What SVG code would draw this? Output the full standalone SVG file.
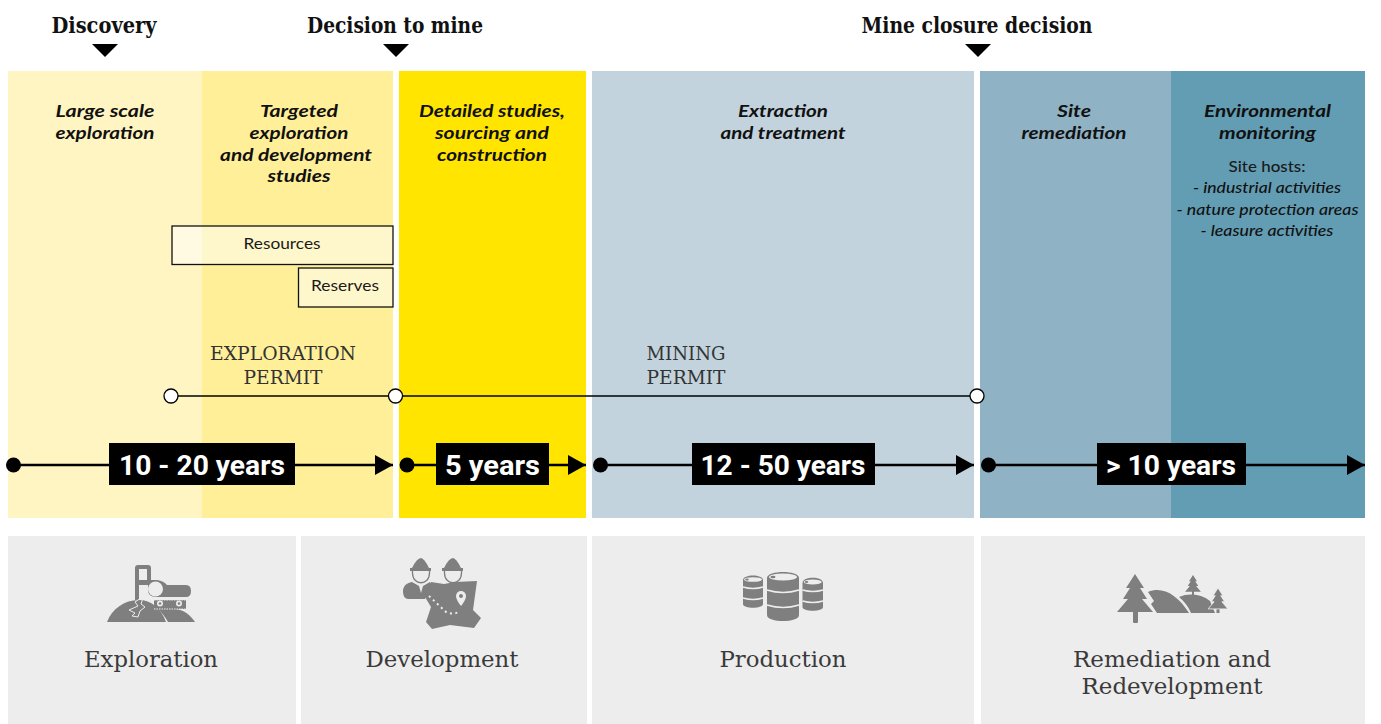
<svg xmlns="http://www.w3.org/2000/svg" width="1381" height="724" viewBox="0 0 1381 724">
<style>
.hd{font:700 22px "DejaVu Serif",serif;fill:#111;text-anchor:middle}
.st{font:italic 700 17.500px Lato,"Open Sans",sans-serif;fill:#111;text-anchor:middle}
.sm{font:italic 500 15px Lato,"Open Sans",sans-serif;fill:#111;text-anchor:middle}
.bx{font:400 15.500px Lato,"Open Sans",sans-serif;fill:#1a1a1a;text-anchor:middle}
.pm{font:200 19px "DejaVu Serif",serif;fill:#333;text-anchor:middle}
.yr{font:700 28px Roboto,sans-serif;fill:#fff;text-anchor:middle}
.cat{font:200 22.500px "DejaVu Serif",serif;fill:#3a3a3a;text-anchor:middle}
.ic{fill:#7f7f7f}
.gap{fill:none;stroke:#ededed}
</style>
<defs>
<marker id="ah" markerUnits="userSpaceOnUse" markerWidth="18" markerHeight="20" refX="18" refY="10" orient="auto"><path d="M0 0L18 10L0 20Z" fill="#000"/></marker>
<path id="tree" d="M0 0L9 14H5L12 25H7L18 38H-18L-7 25H-12L-5 14H-9Z"/>
</defs>
<rect width="1381" height="724" fill="#fff"/>
<g id="phase-large-scale"><rect x="8" y="71" width="194" height="447" fill="#fff5c2"/><text class="st" x="105" y="117" textLength="99" lengthAdjust="spacingAndGlyphs">Large scale</text><text class="st" x="105" y="139" textLength="99" lengthAdjust="spacingAndGlyphs">exploration</text></g>
<g id="phase-targeted"><rect x="202" y="71" width="191" height="447" fill="#ffef99"/><text class="st" x="299" y="117" textLength="78" lengthAdjust="spacingAndGlyphs">Targeted</text><text class="st" x="299" y="139" textLength="99" lengthAdjust="spacingAndGlyphs">exploration</text><text class="st" x="296" y="161" textLength="152" lengthAdjust="spacingAndGlyphs">and development</text><text class="st" x="299" y="182" textLength="63" lengthAdjust="spacingAndGlyphs">studies</text></g>
<g id="phase-detailed"><rect x="399" y="71" width="187" height="447" fill="#ffe500"/><text class="st" x="492" y="117" textLength="146" lengthAdjust="spacingAndGlyphs">Detailed studies,</text><text class="st" x="492" y="139" textLength="114" lengthAdjust="spacingAndGlyphs">sourcing and</text><text class="st" x="492" y="161" textLength="110" lengthAdjust="spacingAndGlyphs">construction</text></g>
<g id="phase-extraction"><rect x="592" y="71" width="382" height="447" fill="#c2d3dd"/><text class="st" x="783" y="117" textLength="90" lengthAdjust="spacingAndGlyphs">Extraction</text><text class="st" x="783" y="139" textLength="125" lengthAdjust="spacingAndGlyphs">and treatment</text></g>
<g id="phase-remediation"><rect x="980" y="71" width="191" height="447" fill="#8fb2c4"/><text class="st" x="1074" y="117" textLength="34" lengthAdjust="spacingAndGlyphs">Site</text><text class="st" x="1074" y="139" textLength="105" lengthAdjust="spacingAndGlyphs">remediation</text></g>
<g id="phase-monitoring"><rect x="1171" y="71" width="194" height="447" fill="#639db3"/><text class="st" x="1267.500" y="117" textLength="127" lengthAdjust="spacingAndGlyphs">Environmental</text><text class="st" x="1267.500" y="139" textLength="97" lengthAdjust="spacingAndGlyphs">monitoring</text><text class="bx" x="1267" y="172" textLength="77" lengthAdjust="spacingAndGlyphs" style="font-weight:500">Site hosts:</text><text class="sm" x="1267" y="193" textLength="148" lengthAdjust="spacingAndGlyphs">- industrial activities</text><text class="sm" x="1267.500" y="215" textLength="182" lengthAdjust="spacingAndGlyphs">- nature protection areas</text><text class="sm" x="1267" y="236" textLength="133" lengthAdjust="spacingAndGlyphs">- leasure activities</text></g>
<g id="milestone-discovery"><text class="hd" x="104" y="33" textLength="105" lengthAdjust="spacingAndGlyphs">Discovery</text><path d="M92 44H118L105 57Z" fill="#000"/></g>
<g id="milestone-decision"><text class="hd" x="395" y="33" textLength="176" lengthAdjust="spacingAndGlyphs">Decision to mine</text><path d="M383 44H409L396 57Z" fill="#000"/></g>
<g id="milestone-closure"><text class="hd" x="977" y="33" textLength="231" lengthAdjust="spacingAndGlyphs">Mine closure decision</text><path d="M965 44H991L978 57Z" fill="#000"/></g>
<g id="box-resources"><rect x="172" y="226" width="221" height="38.500" fill="#fff" fill-opacity=".5" stroke="#111" stroke-width="1.300"/><text class="bx" x="282" y="249" textLength="77" lengthAdjust="spacingAndGlyphs">Resources</text></g>
<g id="box-reserves"><rect x="298.500" y="268" width="94.500" height="39" fill="#fff" fill-opacity=".5" stroke="#111" stroke-width="1.300"/><text class="bx" x="345" y="291" textLength="68" lengthAdjust="spacingAndGlyphs">Reserves</text></g>
<g id="permit-labels"><text class="pm" x="283" y="360" textLength="146" lengthAdjust="spacingAndGlyphs">EXPLORATION</text><text class="pm" x="283" y="384" textLength="79" lengthAdjust="spacingAndGlyphs">PERMIT</text><text class="pm" x="686" y="360" textLength="79" lengthAdjust="spacingAndGlyphs">MINING</text><text class="pm" x="686" y="384" textLength="79" lengthAdjust="spacingAndGlyphs">PERMIT</text></g>
<g id="connectors" stroke="#000" fill="none">
<path d="M171 396H977" stroke-width="1.300"/>
<g stroke-width="2.500"><path d="M13 465H393" marker-end="url(#ah)"/><path d="M407 465H586" marker-end="url(#ah)"/><path d="M600 465H974" marker-end="url(#ah)"/><path d="M988 465H1365" marker-end="url(#ah)"/></g>
<g fill="#fff" stroke-width="1.300"><circle cx="171" cy="396" r="7"/><circle cx="395.500" cy="396" r="7"/><circle cx="977" cy="396" r="7"/></g>
<g fill="#000" stroke="none"><circle cx="13.500" cy="465" r="7.500"/><circle cx="407" cy="465" r="7.500"/><circle cx="600.500" cy="465" r="7.500"/><circle cx="988.500" cy="465" r="7.500"/></g>
</g>
<g id="duration-1"><rect x="109" y="443" width="186" height="42" fill="#000"/><text class="yr" x="202" y="475" textLength="166" lengthAdjust="spacingAndGlyphs">10 - 20 years</text></g>
<g id="duration-2"><rect x="436" y="443" width="113" height="42" fill="#000"/><text class="yr" x="492.500" y="475" textLength="95" lengthAdjust="spacingAndGlyphs">5 years</text></g>
<g id="duration-3"><rect x="692" y="443" width="183" height="42" fill="#000"/><text class="yr" x="783" y="475" textLength="165" lengthAdjust="spacingAndGlyphs">12 - 50 years</text></g>
<g id="duration-4"><rect x="1097" y="443" width="149" height="42" fill="#000"/><text class="yr" x="1171" y="475" textLength="130" lengthAdjust="spacingAndGlyphs">&gt; 10 years</text></g>
<g id="stage-exploration"><rect x="8" y="536" width="288" height="188" fill="#ededed"/>
<g class="ic"><path d="M107 622C112 609 124 600 139 600C151 600 161 608 166 622Z"/><path d="M157 609C161 608 166 609 174 609C184 609 191 616 195 622H168C165 617 162 612 157 609Z"/><path d="M135 568Q135 565 138 565H148Q151 565 151 568V580H157Q164 581 167 585H186Q191 585 191 591Q191 597 186 597H156Q148 597 148 590V585H139V600H135Z"/><rect x="154" y="600" width="32" height="9"/></g>
<rect x="139" y="569" width="8" height="11" fill="#ededed"/><circle cx="155.500" cy="589" r="7.500" fill="#ededed"/>
<path class="gap" d="M141 598L135 602L138 606L129 610L135 613L132 616L138 617L140 611L145 607L141 604L143 598" stroke-width="1"/>
<path class="gap" d="M154 600H186M154 609H186" stroke-width="1" stroke-dasharray="1.500 1"/>
<circle cx="160" cy="603.500" r="3" fill="#ededed"/><circle cx="179" cy="603.500" r="3" fill="#ededed"/><circle cx="160" cy="603.500" r="1.300" fill="#7f7f7f"/><circle cx="179" cy="603.500" r="1.300" fill="#7f7f7f"/>
<text class="cat" x="151" y="666.500" textLength="134" lengthAdjust="spacingAndGlyphs">Exploration</text></g>
<g id="stage-development"><rect x="301" y="536" width="286" height="188" fill="#ededed"/>
<g fill="none" stroke="#7f7f7f" stroke-width="1.300"><path d="M412.500 570V573C412.500 586 429.500 586 429.500 573V570"/><path d="M444.500 570V573C444.500 586 461.500 586 461.500 573V570"/></g>
<g class="ic"><path d="M421 558Q424 558 429 568H431V571H410V568H412Q417 558 421 558Z"/><path d="M453 558Q456 558 461 568H463V571H442V568H444Q449 558 453 558Z"/><path d="M412 582L419 586L421 593L423 586L430 582L431 584L425 599H410C403 600 403 593 403 590C404 585 407 583 412 582Z"/><path d="M431 582L444 584L455 582L477 581L473 610L481 618L474 628L450 625L432 629L426 622L431 607L425 597Z"/></g>
<path d="M429 596L446 612Q452 615 459 612" fill="none" stroke="#ededed" stroke-width="2" stroke-dasharray="2 3.500"/><path d="M461 591a5 5 0 0 1 5 5c0 4-5 10-5 10s-5-6-5-10a5 5 0 0 1 5-5z" fill="#ededed"/><circle cx="461" cy="596" r="2" fill="#7f7f7f"/><text class="cat" x="442" y="666.500" textLength="153" lengthAdjust="spacingAndGlyphs">Development</text></g>
<g id="stage-production"><rect x="592" y="536" width="382" height="188" fill="#ededed"/>
<g class="ic"><path d="M743 580C743 574 763 574 763 580V604C763 609 743 609 743 604Z"/><path d="M767 578C767 570 799 570 799 578V615C799 623 767 623 767 615Z"/><path d="M802.500 583C802.500 576 823 576 823 583V607C823 612 802.500 612 802.500 607Z"/></g>
<g fill="#ededed"><ellipse cx="753" cy="579.500" rx="9" ry="2.300"/><ellipse cx="783" cy="577" rx="14" ry="3.500"/><ellipse cx="812.700" cy="582" rx="9" ry="2.500"/></g>
<g class="gap" stroke-width="1.500"><path d="M743 587Q753 590 763 587M743 598Q753 601 763 598M767 590Q783 595 799 590M767 605Q783 610 799 605M802.500 590Q813 593 823 590M802.500 601Q813 604 823 601"/></g>
<g class="ic"><ellipse cx="747" cy="579.500" rx="1.800" ry="1"/><ellipse cx="773" cy="577" rx="2.500" ry="1.300"/><ellipse cx="806.500" cy="582" rx="1.800" ry="1"/></g>
<text class="cat" x="783" y="666.500" textLength="127" lengthAdjust="spacingAndGlyphs">Production</text></g>
<g id="stage-remediation"><rect x="981" y="536" width="384" height="188" fill="#ededed"/>
<g class="ic"><path d="M1179 597C1190 592 1203 595 1210 601L1215 613H1191C1188 606 1184 601 1179 597Z"/><path d="M1148 592C1162 586 1177 594 1189 613H1157L1151 604L1154 601Z"/>
<use href="#tree" x="1135" y="574"/><rect x="1133" y="611" width="5" height="12" rx="1"/>
<rect x="1192" y="590" width="2" height="6"/><use href="#tree" transform="translate(1193 575) scale(.44 .44)"/>
<rect x="1216.500" y="608" width="3" height="5"/><use href="#tree" transform="translate(1218 588) scale(.55 .55)" stroke="#ededed" stroke-width="1.500"/></g>
<text class="cat" x="1172" y="666.500" textLength="198" lengthAdjust="spacingAndGlyphs">Remediation and</text><text class="cat" x="1172" y="693.500" textLength="181" lengthAdjust="spacingAndGlyphs">Redevelopment</text></g>
</svg>
